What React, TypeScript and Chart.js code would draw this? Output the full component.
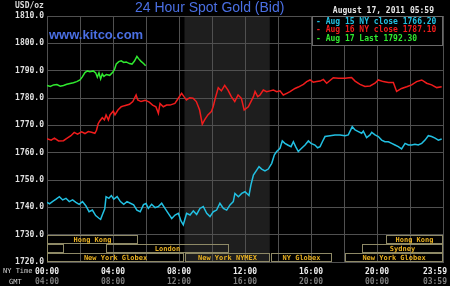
import { useEffect, useRef } from "react";
import { Chart, registerables } from "chart.js";

Chart.register(...registerables);

const titleText = "24 Hour Spot Gold (Bid)";
const siteText = "www.kitco.com";
const unitText = "USD/oz";
const stampText = "August 17, 2011 05:59";

const seriesLabels = ["Aug 15 NY close 1766.20", "Aug 16 NY close 1787.10", "Aug 17 Last 1792.30"];
const seriesColors = ["#22c0e2", "#f01c1c", "#30ea30"];

// Aug 15 (cyan), hours NY time
const aug15Hours = [
  0.0, 0.15, 0.35, 0.55, 0.75, 0.95, 1.15, 1.35, 1.55, 1.75, 1.95, 2.15, 2.35, 2.55, 2.75, 2.95, 3.15, 3.25, 3.35, 3.5,
  3.58, 3.75, 3.9, 4.05, 4.25, 4.45, 4.65, 4.85, 5.05, 5.25, 5.45, 5.65, 5.85, 6.0, 6.14, 6.34, 6.55, 6.75, 6.95, 7.15,
  7.35, 7.56, 7.76, 7.96, 8.12, 8.26, 8.46, 8.67, 8.87, 9.07, 9.27, 9.47, 9.68, 9.88, 10.08, 10.28, 10.48, 10.69, 10.89, 11.09,
  11.29, 11.39, 11.6, 11.8, 12.0, 12.24, 12.36, 12.51, 12.71, 12.85, 13.01, 13.21, 13.41, 13.62, 13.78, 13.92, 14.12, 14.26, 14.42, 14.59,
  14.79, 14.93, 15.07, 15.23, 15.43, 15.64, 15.84, 16.0, 16.24, 16.4, 16.55, 16.69, 16.85, 17.15, 17.45, 17.76, 18.06, 18.26, 18.5, 18.67,
  18.87, 19.07, 19.17, 19.37, 19.58, 19.68, 19.88, 20.08, 20.28, 20.48, 20.69, 20.89, 21.09, 21.29, 21.49, 21.7, 21.9, 22.1, 22.3, 22.5,
  22.71, 22.91, 23.11, 23.31, 23.52, 23.72, 23.92,
];
const aug15Values = [
  1741.8, 1741.3, 1742.2, 1743.0, 1743.9, 1742.7, 1743.3, 1742.1, 1742.7, 1741.8, 1741.1, 1742.1, 1740.6, 1738.4, 1739.0, 1737.0, 1736.0, 1735.6, 1737.2, 1739.5,
  1743.9, 1743.3, 1744.3, 1743.0, 1743.9, 1742.1, 1741.1, 1742.1, 1741.5, 1740.9, 1739.0, 1738.4, 1741.0, 1741.4, 1739.6, 1741.1, 1739.9, 1740.3, 1741.5, 1739.6,
  1737.8, 1735.9, 1737.2, 1737.8, 1735.0, 1733.6, 1737.8, 1737.2, 1738.7, 1737.4, 1739.6, 1740.3, 1737.8, 1736.6, 1738.4, 1739.0, 1741.5, 1739.6, 1739.0, 1740.9,
  1742.1, 1745.1, 1743.9, 1745.1, 1745.7, 1744.3, 1748.2, 1751.8, 1753.6, 1754.9, 1754.0, 1753.3, 1754.0, 1756.1, 1759.2, 1760.4, 1761.6, 1764.3, 1763.4, 1762.8,
  1762.2, 1764.0, 1762.2, 1760.4, 1761.6, 1762.8, 1764.3, 1763.4, 1762.8, 1761.8, 1762.2, 1764.0, 1765.9, 1766.2, 1766.5, 1766.5, 1766.2, 1766.5, 1769.5, 1768.3,
  1767.7, 1767.1, 1767.9, 1765.5, 1766.5, 1767.4, 1766.5, 1765.9, 1764.6, 1764.0, 1764.0, 1763.4, 1762.8, 1762.2, 1761.4, 1763.4, 1762.8, 1762.8, 1763.1, 1762.8,
  1763.4, 1764.6, 1766.2, 1765.9, 1765.3, 1764.6, 1765.0,
];

// Aug 16 (red)
const aug16Hours = [
  0.0, 0.25, 0.45, 0.7, 1.0, 1.2, 1.45, 1.65, 1.85, 2.1, 2.3, 2.5, 2.7, 2.9, 3.0, 3.1, 3.2, 3.35, 3.48, 3.58,
  3.72, 3.82, 4.02, 4.12, 4.3, 4.5, 4.7, 5.0, 5.2, 5.4, 5.5, 5.7, 5.95, 6.2, 6.4, 6.6, 6.75, 6.85, 7.05, 7.25,
  7.45, 7.75, 7.96, 8.16, 8.3, 8.45, 8.65, 8.85, 9.05, 9.25, 9.41, 9.55, 9.75, 9.96, 10.07, 10.2, 10.38, 10.57, 10.77, 10.97,
  11.17, 11.38, 11.58, 11.78, 11.95, 12.2, 12.36, 12.51, 12.61, 12.77, 12.91, 13.11, 13.31, 13.52, 13.72, 13.92, 14.12, 14.32, 14.53, 14.73,
  15.03, 15.23, 15.54, 15.74, 15.94, 16.14, 16.34, 16.55, 16.75, 16.95, 17.15, 17.35, 17.66, 18.06, 18.3, 18.46, 18.67, 18.97, 19.27, 19.58,
  19.88, 20.08, 20.38, 20.69, 20.99, 21.19, 21.49, 21.8, 22.1, 22.4, 22.71, 23.01, 23.31, 23.62, 23.92,
];
const aug16Values = [
  1765.1, 1764.6, 1765.3, 1764.3, 1764.4, 1765.2, 1766.2, 1767.4, 1766.8, 1767.6, 1767.0, 1767.7, 1767.5, 1767.1, 1768.2, 1770.6, 1771.6, 1772.8, 1772.0, 1773.8,
  1772.0, 1773.8, 1775.3, 1773.8, 1775.6, 1776.8, 1777.2, 1777.7, 1778.7, 1781.1, 1779.3, 1778.7, 1779.2, 1778.5, 1777.4, 1776.8, 1774.4, 1778.0, 1776.8, 1777.4,
  1777.4, 1778.0, 1779.9, 1781.7, 1780.5, 1779.3, 1780.1, 1779.9, 1778.7, 1775.6, 1770.4, 1772.0, 1773.8, 1775.0, 1776.8, 1779.9, 1783.8, 1782.6, 1784.6, 1782.9,
  1780.5, 1778.7, 1781.1, 1779.9, 1775.6, 1776.8, 1778.7, 1780.5, 1782.4, 1780.5, 1781.1, 1782.9, 1782.3, 1782.6, 1782.9, 1782.3, 1782.6, 1781.1, 1781.7, 1782.3,
  1783.5, 1784.0, 1785.0, 1786.0, 1786.6, 1785.8, 1786.0, 1786.2, 1786.8, 1785.4, 1786.4, 1787.4, 1787.2, 1787.2, 1787.4, 1787.5, 1786.2, 1785.0, 1784.2, 1784.4,
  1785.4, 1786.6, 1786.0, 1785.7, 1785.7, 1782.4, 1783.5, 1784.1, 1784.8, 1786.0, 1786.6, 1785.4, 1784.8, 1783.8, 1784.1,
];

// Aug 17 (green)
const aug17Hours = [
  0.0, 0.2, 0.4, 0.6, 0.8, 1.0, 1.2, 1.4, 1.6, 1.8, 2.0, 2.15, 2.3, 2.45, 2.6, 2.8, 2.95, 3.05, 3.15, 3.25,
  3.35, 3.45, 3.6, 3.8, 4.0, 4.1, 4.2, 4.35, 4.5, 4.65, 4.8, 5.0, 5.15, 5.3, 5.45, 5.55, 5.7, 5.85, 5.98,
];
const aug17Values = [
  1784.6, 1784.2, 1784.8, 1784.9, 1784.3, 1784.6, 1785.0, 1785.3, 1785.6, 1786.0, 1786.6, 1787.8, 1789.3, 1789.9, 1789.6, 1789.9, 1789.2, 1787.6, 1789.2, 1787.0,
  1788.8, 1787.9, 1788.6, 1788.3, 1789.5, 1790.6, 1792.5, 1793.3, 1793.6, 1793.0, 1793.2, 1792.6, 1792.4, 1793.5, 1795.2, 1794.4, 1793.4, 1792.6, 1791.8,
];

const axisHours = [0, 4, 8, 12, 16, 20, 24];
const nyTimeLabels = ["00:00", "04:00", "08:00", "12:00", "16:00", "20:00", "23:59"];
const gmtLabels = ["04:00", "08:00", "12:00", "16:00", "20:00", "00:00", "03:59"];

const sessionNames = ["Hong Kong", "Hong Kong", "", "London", "Sydney", "New York Globex", "New York NYMEX", "NY Globex", "New York Globex"];
const sessionStarts = [0, 20.5, 0, 3.5, 19, 0, 8.333, 13.5, 18];
const sessionEnds = [5.5, 24, 1, 11, 24, 8.333, 13.5, 17.25, 24];
const sessionRows = [0, 0, 1, 1, 1, 2, 2, 2, 2];
const sessionBandTop = 1730;
const sessionBandBottom = 1720;
const pitStart = 8.333;
const pitEnd = 13.5;

const MONO = '"DejaVu Sans Mono", "Liberation Mono", monospace';
const SANS = '"Liberation Sans", Arial, sans-serif';

const decor = {
  id: "decor",
  beforeDraw(chart: any) {
    const { ctx, chartArea: a, scales } = chart;
    ctx.save();
    ctx.fillStyle = "#000";
    ctx.fillRect(0, 0, chart.width, chart.height);
    const x1 = scales.x.getPixelForValue(pitStart);
    const x2 = scales.x.getPixelForValue(pitEnd);
    ctx.fillStyle = "#1e1e1e";
    ctx.fillRect(x1, a.top, x2 - x1, a.bottom - a.top);
    ctx.restore();
  },
  afterDatasetsDraw(chart: any) {
    const { ctx, chartArea: a, scales } = chart;
    const xs = scales.x;
    const ys = scales.y;
    ctx.save();
    // sessions
    const rowH = (sessionBandTop - sessionBandBottom) / 3;
    ctx.lineWidth = 1;
    ctx.font = `bold 7px ${MONO}`;
    ctx.textAlign = "center";
    ctx.textBaseline = "middle";
    for (let i = 0; i < sessionNames.length; i++) {
      const r = sessionRows[i];
      const xa = Math.round(xs.getPixelForValue(sessionStarts[i])) + (sessionStarts[i] > 0 ? 1.5 : 0.5);
      const xb = Math.round(xs.getPixelForValue(sessionEnds[i])) - 0.5;
      const ya = Math.round(ys.getPixelForValue(sessionBandTop - r * rowH)) + 0.5;
      const yb = Math.round(ys.getPixelForValue(sessionBandTop - (r + 1) * rowH)) - 0.5;
      ctx.strokeStyle = "#8e8966";
      ctx.strokeRect(xa, ya, xb - xa, yb - ya);
      if (sessionNames[i]) {
        ctx.fillStyle = "#e8b020";
        ctx.fillText(sessionNames[i], (xa + xb) / 2, (ya + yb) / 2 + 0.5);
      }
    }
    // legend box
    const lw = 131;
    const lh = 29;
    const lx = a.right - lw;
    const ly = a.top;
    ctx.fillStyle = "#000";
    ctx.fillRect(lx, ly, lw, lh);
    ctx.strokeStyle = "#6a6a6a";
    ctx.strokeRect(lx + 0.5, ly + 0.5, lw - 1, lh);
    ctx.font = `bold 8px ${MONO}`;
    ctx.textAlign = "left";
    chart.data.datasets.forEach((ds: any, i: number) => {
      ctx.fillStyle = ds.borderColor;
      ctx.fillText("- " + ds.label, lx + 4, ly + 5.5 + i * 8.6);
    });
    ctx.restore();
  },
  afterDraw(chart: any) {
    const { ctx, scales } = chart;
    const xs = scales.x;
    ctx.save();
    ctx.textBaseline = "middle";
    // title
    ctx.font = `14px ${SANS}`;
    ctx.fillStyle = "#4a6fe3";
    ctx.textAlign = "left";
    ctx.fillText(titleText, 135, 8.5);
    ctx.font = `bold 13px ${SANS}`;
    ctx.fillText(siteText, 49, 35);
    // unit + stamp
    ctx.font = `bold 8px ${MONO}`;
    ctx.fillStyle = "#dcdcdc";
    ctx.fillText(unitText, 15, 6);
    ctx.textAlign = "right";
    ctx.fillStyle = "#e6e6e6";
    ctx.fillText(stampText, 434, 10.5);
    // x labels
    ctx.textAlign = "left";
    ctx.font = `7px ${MONO}`;
    ctx.fillStyle = "#cfcfcf";
    ctx.fillText("NY Time", 3, 271.5);
    ctx.fillText("GMT", 9, 282);
    ctx.textAlign = "center";
    ctx.font = `bold 8px ${MONO}`;
    for (let i = 0; i < axisHours.length; i++) {
      const w = ctx.measureText(nyTimeLabels[i]).width;
      let px = xs.getPixelForValue(axisHours[i]);
      px = Math.min(px, chart.width - 3 - w / 2);
      ctx.fillStyle = "#ececec";
      ctx.fillText(nyTimeLabels[i], px, 271.5);
      ctx.fillStyle = "#7c7c7c";
      ctx.fillText(gmtLabels[i], px, 282);
    }
    ctx.restore();
  },
};

export default function App() {
  const ref = useRef<HTMLCanvasElement>(null);
  useEffect(() => {
    document.body.style.margin = "0";
    document.body.style.background = "#000";
    const hours = [aug15Hours, aug16Hours, aug17Hours];
    const values = [aug15Values, aug16Values, aug17Values];
    const chart = new Chart(ref.current as HTMLCanvasElement, {
      type: "line",
      data: {
        datasets: seriesLabels.map((label, i) => ({
          label,
          data: hours[i].map((h, j) => ({ x: h, y: values[i][j] })),
          borderColor: seriesColors[i],
          backgroundColor: seriesColors[i],
          borderWidth: 1.5,
          pointRadius: 0,
          tension: 0,
          fill: false,
        })),
      },
      options: {
        animation: false,
        responsive: false,
        devicePixelRatio: 1,
        layout: { padding: { top: 16, right: 7, left: 0, bottom: 0 } },
        plugins: { legend: { display: false }, title: { display: false }, tooltip: { enabled: false } },
        scales: {
          x: {
            type: "linear",
            min: 0,
            max: 24,
            ticks: { stepSize: 2, display: false },
            grid: { color: "#505050", drawTicks: false },
            border: { color: "#505050" },
            afterFit: (s: any) => {
              s.height = 24;
            },
          },
          y: {
            min: 1720,
            max: 1810,
            ticks: {
              stepSize: 10,
              padding: 3,
              color: "#e0e0e0",
              font: { family: MONO, size: 8, weight: "bold" },
              callback: (v: any) => Number(v).toFixed(1),
            },
            grid: { color: "#505050", drawTicks: false },
            border: { color: "#505050" },
            afterFit: (s: any) => {
              s.width = 47;
            },
          },
        },
      } as any,
      plugins: [decor],
    });
    return () => chart.destroy();
  }, []);
  return (
    <div style={{ width: 450, height: 286, background: "#000" }}>
      <canvas ref={ref} width={450} height={286} style={{ display: "block", width: 450, height: 286 }} />
    </div>
  );
}
